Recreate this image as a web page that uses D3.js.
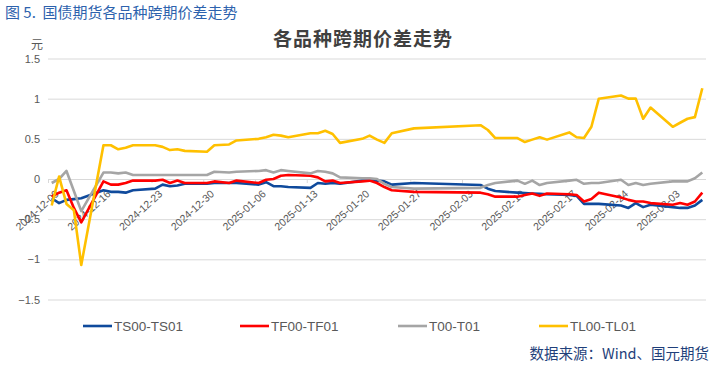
<!DOCTYPE html>
<html>
<head>
<meta charset="utf-8">
<script src="https://cdn.jsdelivr.net/npm/d3@7"></script>
<style>
  body { margin: 0; background: #fff; }
  svg { display: block; font-family: 'Liberation Sans', Arial, 'Noto Sans CJK SC', sans-serif; }
</style>
</head>
<body>
<svg id="chart" width="726" height="371"></svg>
<script>
// trading days shown on the chart
const dates = [
  '2024-12-09', '2024-12-10', '2024-12-11', '2024-12-12', '2024-12-13',
  '2024-12-16', '2024-12-17', '2024-12-18', '2024-12-19', '2024-12-20',
  '2024-12-23', '2024-12-24', '2024-12-25', '2024-12-26', '2024-12-27',
  '2024-12-30', '2024-12-31', '2025-01-02', '2025-01-03',
  '2025-01-06', '2025-01-07', '2025-01-08', '2025-01-09', '2025-01-10',
  '2025-01-13', '2025-01-14', '2025-01-15', '2025-01-16', '2025-01-17',
  '2025-01-20', '2025-01-21', '2025-01-22', '2025-01-23', '2025-01-24',
  '2025-01-27', '2025-02-05', '2025-02-06', '2025-02-07',
  '2025-02-10', '2025-02-11', '2025-02-12', '2025-02-13', '2025-02-14',
  '2025-02-17', '2025-02-18', '2025-02-19', '2025-02-20', '2025-02-21',
  '2025-02-24', '2025-02-25', '2025-02-26', '2025-02-27', '2025-02-28',
  '2025-03-03', '2025-03-04', '2025-03-05', '2025-03-06', '2025-03-07',
];

const ts = [
  -0.24, -0.30, -0.26, -0.25, -0.24,
  -0.14, -0.16, -0.16, -0.17, -0.14,
  -0.12, -0.07, -0.09, -0.08, -0.06,
  -0.06, -0.05, -0.05, -0.05,
  -0.07, -0.04, -0.09, -0.09, -0.10,
  -0.11, -0.05, -0.06, -0.05, -0.06,
  -0.02, -0.02, -0.02, -0.03, -0.07,
  -0.05, -0.075, -0.12, -0.15,
  -0.17, -0.175, -0.18, -0.185, -0.19,
  -0.20, -0.21, -0.31, -0.31, -0.31,
  -0.33, -0.36, -0.30, -0.35, -0.32,
  -0.35, -0.36, -0.36, -0.33, -0.26,
];

const tf = [
  -0.22, -0.17, -0.14, -0.36, -0.54,
  -0.03, -0.07, -0.07, -0.05, -0.02,
  -0.02, -0.01, -0.05, -0.02, -0.05,
  -0.05, -0.03, -0.05, -0.02,
  -0.05, -0.01, 0.00, 0.04, 0.05,
  0.04, 0.02, -0.03, -0.02, -0.05,
  -0.03, -0.02, -0.05, -0.10, -0.14,
  -0.16, -0.17, -0.19, -0.22,
  -0.22, -0.20, -0.18, -0.21, -0.18,
  -0.19, -0.20, -0.28, -0.25, -0.17,
  -0.23, -0.26, -0.28, -0.28, -0.30,
  -0.32, -0.30, -0.32, -0.28, -0.17,
];

const t = [
  -0.05, 0.00, 0.10, -0.15, -0.40,
  0.08, 0.08, 0.07, 0.08, 0.05,
  0.05, 0.05, 0.05, 0.05, 0.05,
  0.05, 0.09, 0.08, 0.09,
  0.10, 0.11, 0.08, 0.11, 0.10,
  0.07, 0.10, 0.09, 0.07, 0.02,
  0.01, 0.01, 0.00, -0.06, -0.10,
  -0.12, -0.11, -0.075, -0.05,
  -0.02, -0.06, -0.02, -0.075, -0.05,
  -0.02, -0.01, -0.06, -0.05, -0.05,
  -0.01, -0.075, -0.05, -0.075, -0.06,
  -0.03, -0.03, -0.03, 0.01, 0.08,
];

const tl = [
  -0.33, 0.03, -0.31, -0.39, -1.07,
  0.42, 0.42, 0.37, 0.39, 0.42,
  0.42, 0.40, 0.36, 0.37, 0.35,
  0.34, 0.42, 0.43, 0.48,
  0.50, 0.52, 0.55, 0.54, 0.52,
  0.57, 0.57, 0.60, 0.56, 0.45,
  0.50, 0.54, 0.49, 0.45, 0.57,
  0.63, 0.67, 0.61, 0.51,
  0.51, 0.46, 0.49, 0.52, 0.49,
  0.58, 0.52, 0.51, 0.65, 1.00,
  1.04, 1.00, 1.00, 0.75, 0.89,
  0.65, 0.70, 0.75, 0.77, 1.13,
];

const seriesNames = ['TS00-TS01', 'TF00-TF01', 'T00-T01', 'TL00-TL01'];
const seriesColors = ['#0f4a9c', '#ff0000', '#a5a5a5', '#ffc000'];
const seriesValues = [ts, tf, t, tl];
const yTicks = [1.5, 1, 0.5, 0, -0.5, -1, -1.5];

const svg = d3.select('#chart');
const left = 48;
const right = 706;

const parse = d3.timeParse('%Y-%m-%d');
const days = dates.map(parse);

const x = d3.scaleTime()
  .domain([days[0], d3.timeDay.offset(days[days.length - 1], 1)])
  .range([left, right]);
const y = d3.scaleLinear()
  .domain([-1.5, 1.5])
  .range([299.5, 58.5]);

// points sit in the middle of their day slot
const xMid = (d) => x(d3.timeHour.offset(d, 12));

// header
svg.append('text')
  .attr('x', 5)
  .attr('y', 18)
  .attr('font-size', 15)
  .attr('fill', '#2d62ad')
  .attr('font-family', "'Noto Sans CJK SC', sans-serif")
  .style('white-space', 'pre')
  .text('图 5.  国债期货各品种跨期价差走势');

svg.append('text')
  .attr('x', 363)
  .attr('y', 46)
  .attr('text-anchor', 'middle')
  .attr('font-size', 19)
  .attr('letter-spacing', 1)
  .attr('font-weight', 'bold')
  .attr('fill', '#404040')
  .attr('font-family', "'Noto Sans CJK SC', sans-serif")
  .text('各品种跨期价差走势');

svg.append('text')
  .attr('x', 37)
  .attr('y', 49)
  .attr('text-anchor', 'middle')
  .attr('font-size', 12)
  .attr('fill', '#595959')
  .attr('font-family', "'Noto Sans CJK SC', sans-serif")
  .text('元');

// y axis with gridlines
const yAxis = svg.append('g')
  .attr('transform', `translate(${left},0)`)
  .call(d3.axisLeft(y)
    .tickValues(yTicks)
    .tickSize(-(right - left))
    .tickPadding(8)
    .tickFormat(d3.format('')));
yAxis.select('.domain').remove();
yAxis.selectAll('line').attr('stroke', '#d9d9d9');
yAxis.selectAll('text')
  .attr('font-size', 11)
  .attr('fill', '#595959');

// date axis crossing at zero
const xAxis = svg.append('g')
  .attr('transform', `translate(0,${y(0)})`)
  .call(d3.axisBottom(x)
    .ticks(d3.timeMonday.every(1))
    .tickSize(4)
    .tickFormat(d3.timeFormat('%Y-%m-%d')));
xAxis.select('.domain').remove();
xAxis.selectAll('line').attr('stroke', '#d9d9d9');
xAxis.selectAll('text')
  .attr('font-size', 10.5)
  .attr('fill', '#595959')
  .attr('text-anchor', 'end')
  .attr('dy', '0.35em')
  .attr('transform', 'translate(4,8) rotate(-42)');

// series lines
const line = d3.line()
  .x((d) => xMid(d.date))
  .y((d) => y(d.value));

seriesValues.forEach((vals, i) => {
  svg.append('path')
    .datum(vals.map((v, j) => ({date: days[j], value: v})))
    .attr('fill', 'none')
    .attr('stroke', seriesColors[i])
    .attr('stroke-width', 2.6)
    .attr('stroke-linejoin', 'round')
    .attr('d', line);
});

// legend
const legendX = [83, 240, 398, 539];
const legend = svg.append('g')
  .selectAll('g')
  .data(seriesNames)
  .join('g')
  .attr('transform', (d, i) => `translate(${legendX[i]},326)`);

legend.append('line')
  .attr('x1', 0)
  .attr('x2', 29)
  .attr('stroke', (d, i) => seriesColors[i])
  .attr('stroke-width', 2.6);

legend.append('text')
  .attr('x', 31)
  .attr('dy', '0.35em')
  .attr('font-size', 13.5)
  .attr('fill', '#595959')
  .text((d) => d);

svg.append('text')
  .attr('x', 709)
  .attr('y', 359)
  .attr('text-anchor', 'end')
  .attr('font-size', 14.5)
  .attr('fill', '#1f3f7a')
  .attr('font-family', "'Noto Sans CJK SC', sans-serif")
  .text('数据来源：Wind、国元期货');
</script>
</body>
</html>
